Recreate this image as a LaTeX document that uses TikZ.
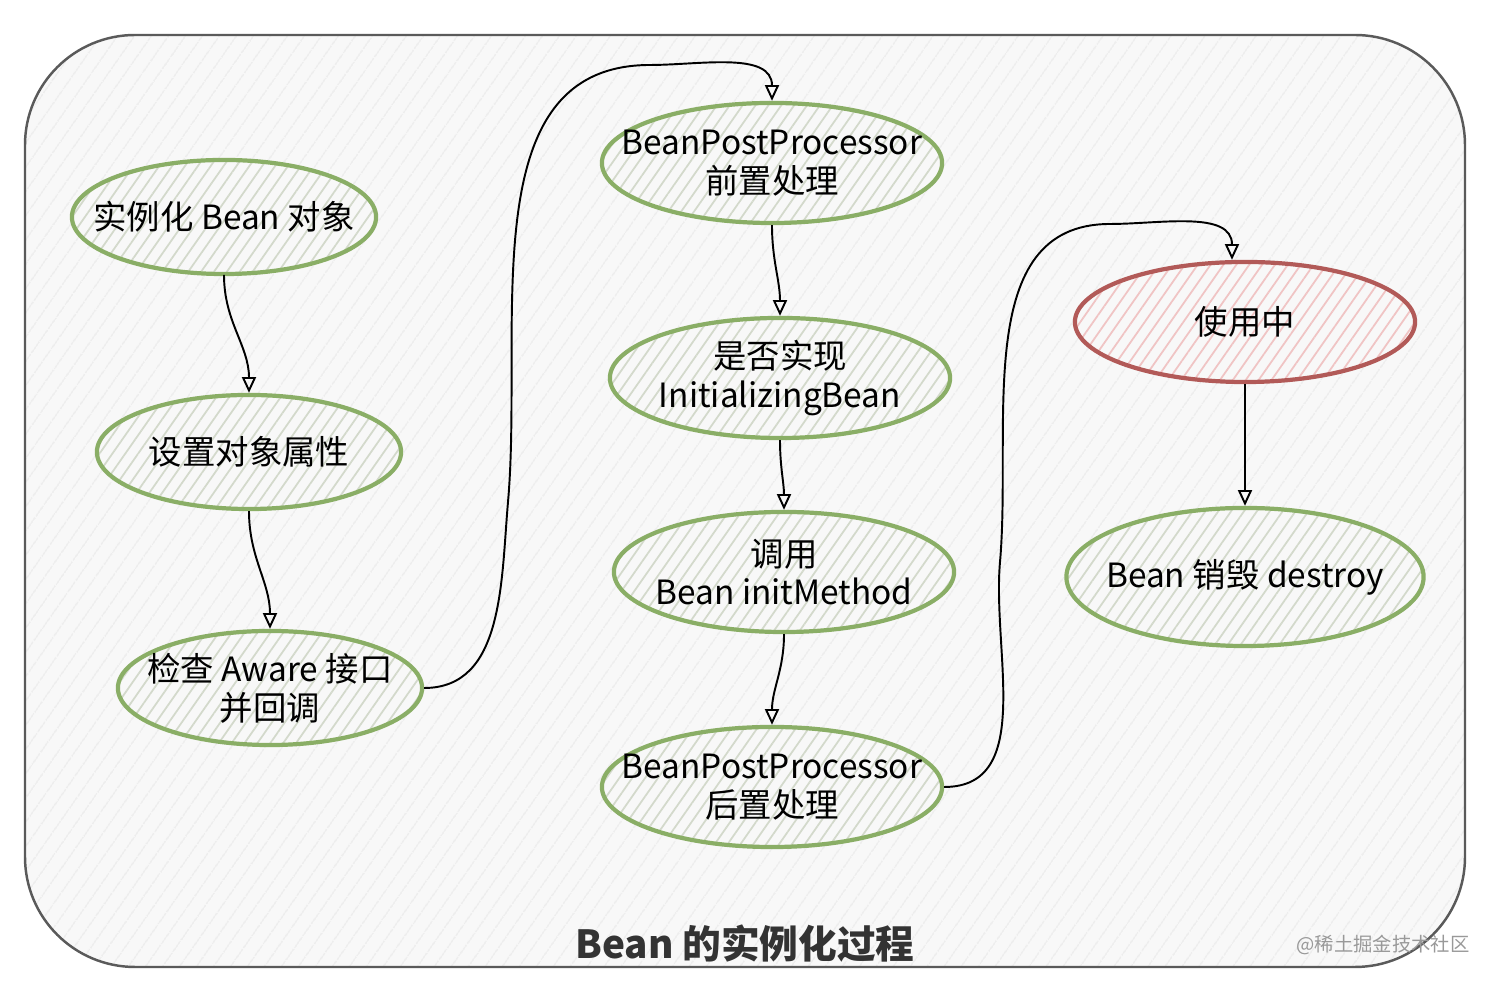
\documentclass[tikz,border=0pt]{standalone}
\usepackage{fontspec}
\setmainfont{Noto Sans CJK SC}
\usetikzlibrary{shapes.geometric,patterns.meta,arrows.meta}
\definecolor{bgfill}{HTML}{F8F8F8}
\definecolor{bghatch}{HTML}{EDEDED}
\definecolor{frame}{HTML}{5A5A5A}
\definecolor{leaf}{HTML}{8AAE66}
\definecolor{leafhatch}{HTML}{D3D9CB}
\definecolor{rust}{HTML}{B25A58}
\definecolor{rusthatch}{HTML}{F0C4C4}
\begin{document}
\begin{tikzpicture}[x=0.01cm,y=0.01cm,>={Triangle[open,length=4.5pt,width=4pt]},
  step node/.style={ellipse,draw=leaf,line width=1.2pt,inner xsep=-40pt,inner ysep=-12pt,
    minimum width=3.04cm,minimum height=1.14cm,align=center,
    font=\fontsize{9.5}{11}\selectfont,preaction={fill=bgfill},
    pattern={Lines[angle=55,distance=3pt,line width=0.5pt]},pattern color=leafhatch},
  wide node/.style={step node,minimum width=3.4cm,minimum height=1.2cm},
  conn/.style={->,black,line width=0.55pt}]
\useasboundingbox (0,0) rectangle (1490,982);
% background
\fill[bgfill,rounded corners=1.1cm] (25,15) rectangle (1465,947);
\begin{scope}
\clip[rounded corners=1.1cm] (25,15) rectangle (1465,947);
\fill[pattern={Lines[angle=55,distance=4pt,line width=0.4pt]},pattern color=bghatch] (25,15) rectangle (1465,947);
\end{scope}
\draw[frame,line width=0.7pt,rounded corners=1.1cm] (25,15) rectangle (1465,947);
% left column
\node[step node] (inst) at (224,765) {实例化 Bean 对象};
\node[step node] (prop) at (249,530) {设置对象属性};
\node[step node] (aware) at (270,294) {检查 Aware 接口\\并回调};
% middle column
\node[wide node] (before) at (772,819) {BeanPostProcessor\\前置处理};
\node[wide node] (check) at (780,604) {是否实现\\InitializingBean};
\node[wide node] (init) at (784,410) {调用\\Bean initMethod};
\node[wide node] (after) at (772,195) {BeanPostProcessor\\后置处理};
% right column
\node[wide node,draw=rust,pattern color=rusthatch] (use) at (1245,660) {使用中};
\node[wide node,minimum width=3.57cm,minimum height=1.38cm] (destroy) at (1245,405) {Bean 销毁 destroy};
% connectors
\draw[conn] (inst.south) to[out=-90,in=90] (prop.north);
\draw[conn] (prop.south) to[out=-90,in=90] (aware.north);
\draw[conn] (aware.east) to[out=0,in=-95] (508,480) to[out=85,in=180] (650,917) to[out=0,in=90] (before.north);
\draw[conn] (before.south) to[out=-90,in=90] (check.north);
\draw[conn] (check.south) to[out=-90,in=90] (init.north);
\draw[conn] (init.south) to[out=-90,in=90] (after.north);
\draw[conn] (after.east) to[out=0,in=-95] (1000,420) to[out=85,in=180] (1110,758) to[out=0,in=90] ([xshift=-0.13cm]use.north);
\draw[conn] (use.south) -- (destroy.north);
% caption
\node[font=\fontsize{11}{13}\selectfont\bfseries,text=black!80] (title) at (745,38) {Bean 的实例化过程};
\node[font=\fontsize{5.5}{7}\selectfont,text=black!40] (mark) at (1383,37) {@稀土掘金技术社区};
\end{tikzpicture}
\end{document}
